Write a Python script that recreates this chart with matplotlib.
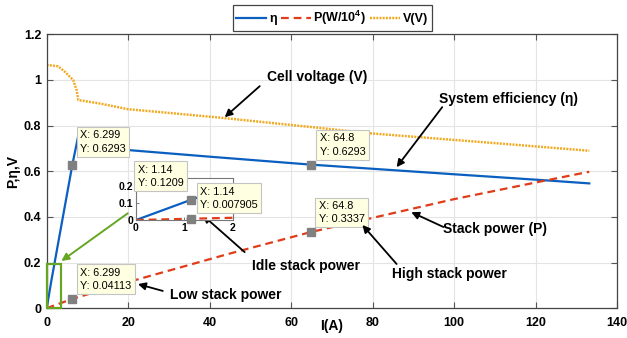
import matplotlib
matplotlib.use("Agg")
import matplotlib.pyplot as plt
from matplotlib.patches import Rectangle

plt.rcParams["font.family"] = ["Liberation Sans", "DejaVu Sans"]
plt.rcParams["font.weight"] = "bold"
plt.rcParams["axes.labelweight"] = "bold"
plt.rcParams["mathtext.fontset"] = "custom"
plt.rcParams["mathtext.bf"] = "Liberation Sans:bold"

# efficiency, stack power (W/1e4) and cell voltage vs. current
I_eta = [0, 1.14, 6.299, 7.8, 12, 20, 40, 64.8, 100, 122, 133.2]
eta = [0, 0.1209, 0.6293, 0.76, 0.72, 0.693, 0.664, 0.6293, 0.587, 0.561, 0.547]

I_p = [0, 1.14, 6.299, 22, 45, 64.8, 100, 122, 133.2]
P = [0, 0.007905, 0.04113, 0.125, 0.24, 0.3337, 0.478, 0.558, 0.598]

I_v = [0, 2.8, 4.5, 6.5, 7.35, 7.75, 13, 20, 42, 67, 79, 111, 133.2]
V = [1.066, 1.06, 1.035, 1.0, 0.955, 0.912, 0.897, 0.872, 0.836, 0.79, 0.767, 0.722, 0.69]

# data tips: (x, y, text offset in px, horizontal alignment)
tips_main = [(6.299, 0.6293, (8, 11), "left"),
             (64.8, 0.6293, (9, 8), "left"),
             (6.299, 0.04113, (8, 8), "left"),
             (64.8, 0.3337, (8, 8), "left")]
tips_inset = [(1.14, 0.1209, (-8, 12), "right"),
              (1.14, 0.007905, (9, 9), "left")]

# callouts: text, text position, arrow tail, arrow head
callouts = [("Cell voltage (V)", (66.5, 1.012), (52.3, 0.973), (43.7, 0.837)),
            ("System efficiency (\u03b7)", (113.3, 0.916), (97.1, 0.881), (85.9, 0.618)),
            ("Idle stack power", (63.6, 0.185), (48.6, 0.246), (38.3, 0.408)),
            ("Low stack power", (43.9, 0.058), (28.5, 0.076), (22.4, 0.106)),
            ("Stack power (P)", (110.0, 0.347), (97.4, 0.356), (89.5, 0.421)),
            ("High stack power", (98.8, 0.150), (85.9, 0.194), (77.5, 0.365))]

BLUE = "#0b5fc0"
RED = "#e03c18"
ORANGE = "#f2a81d"
GREEN = "#66a622"
TIP_FC = "#ffffe1"


def draw_curves(ax, lw=1.6):
    ax.plot(I_eta, eta, color=BLUE, lw=lw, label="\u03b7")
    ax.plot(I_p, P, color=RED, lw=lw, dashes=(3.5, 2.2), label=r"P(W/10$^{\mathbf{4}}$)")
    ax.plot(I_v, V, color=ORANGE, lw=lw * 1.1, dashes=(0.8, 0.5), label="V(V)")


def draw_tips(ax, tips):
    for x, y, off, ha in tips:
        ax.plot(x, y, "s", color="#808080", ms=6, zorder=5, clip_on=False)
        ax.annotate(f"X: {x:g}\nY: {y:g}", xy=(x, y), xytext=off,
                    textcoords="offset pixels", ha=ha, va="bottom",
                    multialignment="left",
                    fontsize=7.8, fontweight="normal", linespacing=1.4,
                    bbox=dict(boxstyle="square,pad=0.3", fc=TIP_FC, ec="#c4c4c4", lw=0.8),
                    zorder=6, annotation_clip=False)


fig = plt.figure(figsize=(6.27, 3.38), dpi=100)
ax = fig.add_axes([0.0745, 0.0879, 0.9095, 0.8106])
draw_curves(ax)
ax.set_xlim(0, 140)
ax.set_ylim(0, 1.2)
ax.set_xticks(range(0, 141, 20))
ax.set_yticks([0, 0.2, 0.4, 0.6, 0.8, 1, 1.2])
ax.set_yticklabels(["0", "0.2", "0.4", "0.6", "0.8", "1", "1.2"])
ax.grid(True, color="#e4e4e4", lw=0.8)
ax.set_axisbelow(True)
ax.tick_params(direction="in", top=True, right=True, length=4, width=0.8,
               color="#555555", labelsize=9)
ax.tick_params(axis="x", pad=6)
ax.tick_params(axis="y", pad=4)
for s in ax.spines.values():
    s.set_color("#444444")
    s.set_linewidth(0.9)
ax.set_xlabel("I(A)", fontsize=10)
ax.xaxis.set_label_coords(0.5, -0.04)
ax.set_ylabel("P,\u03b7,V", fontsize=10)
ax.yaxis.set_label_coords(-0.047, 0.5)

draw_tips(ax, tips_main)

for text, tpos, tail, head in callouts:
    ax.text(*tpos, text, ha="center", va="center", fontsize=10, zorder=7)
    ax.annotate("", xy=head, xytext=tail,
                arrowprops=dict(arrowstyle="-|>", color="black", lw=1.3,
                                mutation_scale=11, shrinkA=0, shrinkB=0), zorder=7)

# zoom box around the origin and pointer from the inset
ax.add_patch(Rectangle((0, 0), 3.4, 0.194, fill=False, ec=GREEN, lw=1.6,
                       clip_on=False, zorder=4))
ax.annotate("", xy=(3.6, 0.207), xytext=(19.9, 0.416),
            arrowprops=dict(arrowstyle="-|>", color=GREEN, lw=1.4,
                            mutation_scale=11, shrinkA=0, shrinkB=0), zorder=4)

leg = ax.legend(loc="upper center", bbox_to_anchor=(0.530, 0.985),
                bbox_transform=fig.transFigure, ncol=3, fontsize=9,
                frameon=True, fancybox=False, framealpha=1, edgecolor="#444444",
                handlelength=2.4, handletextpad=0.2, columnspacing=0.35,
                borderpad=0.3, borderaxespad=0)
leg.get_frame().set_linewidth(0.9)

# inset near the origin
axin = fig.add_axes([0.2169, 0.349, 0.1547, 0.1243])
draw_curves(axin, lw=1.6)
axin.set_xlim(0, 2)
axin.set_ylim(0, 0.25)
axin.set_xticks([0, 1, 2])
axin.set_yticks([0, 0.1, 0.2])
axin.set_yticklabels(["0", "0.1", "0.2"])
axin.tick_params(direction="in", top=True, right=True, length=2.5, width=0.7,
                 color="#777777", labelsize=7.5, pad=2)
for s in axin.spines.values():
    s.set_color("#777777")
    s.set_linewidth(0.8)
draw_tips(axin, tips_inset)

fig.savefig("out.png", dpi=100)
